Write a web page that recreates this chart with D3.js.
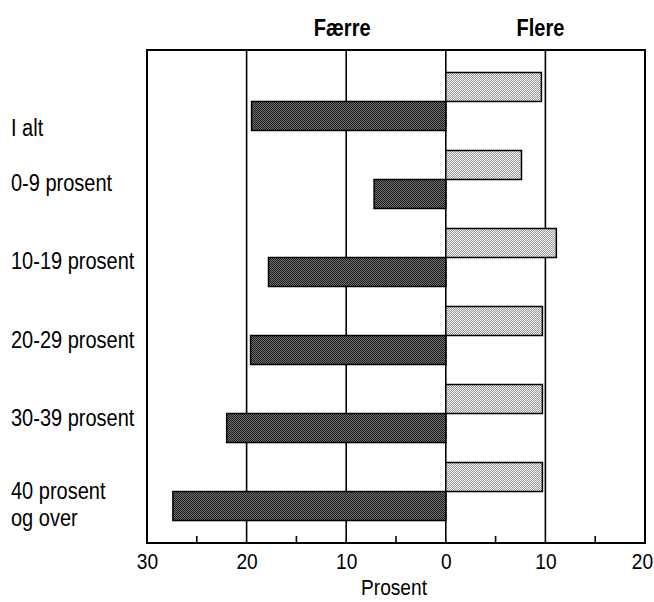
<!DOCTYPE html>
<meta charset="utf-8">

<style>
  body { margin: 0; background: #fff; }
  text { font-family: "Liberation Sans", Arial, sans-serif; fill: #000; }
</style>

<svg class="chart"></svg>

<script src="https://d3js.org/d3.v7.min.js"></script>
<script>

  var width  = 654;
  var height = 602;

  // data
  var categories = ["I alt", "0-9 prosent", "10-19 prosent", "20-29 prosent", "30-39 prosent", "40 prosent\nog over"];
  var faerre     = [19.5, 7.2, 17.8, 19.6, 22.0, 27.4];
  var flere      = [9.6, 7.6, 11.1, 9.7, 9.7, 9.7];
  var majorTicks = [-30, -20, -10, 0, 10, 20];
  var minorTicks = [-25, -15, -5, 5, 15];

  var margin = { top: 50, right: 9, bottom: 59, left: 147 };
  var plotW = width - margin.left - margin.right;
  var plotH = height - margin.top - margin.bottom;

  // the print uses a condensed face; squeeze the regular one
  var squeeze = 0.87;

  var chart = d3.select(".chart")
      .attr("width", width)
      .attr("height", height);

  var defs = chart.append("defs");

  // stippled fills, like the printed raster
  function stipple(id, bg, dot) {
    var p = defs.append("pattern")
        .attr("id", id)
        .attr("width", 2).attr("height", 2)
        .attr("patternUnits", "userSpaceOnUse");
    p.append("rect").attr("width", 2).attr("height", 2).attr("fill", bg);
    p.append("rect").attr("width", 1).attr("height", 1).attr("fill", dot);
    p.append("rect").attr("x", 1).attr("y", 1).attr("width", 1).attr("height", 1).attr("fill", dot);
  }
  stipple("darkFill", "#1e1e1e", "#707070");
  stipple("lightFill", "#f0f0f0", "#9a9a9a");

  var x = d3.scaleLinear()
      .domain([-30, 20])
      .range([0, plotW]);

  var y = d3.scalePoint()
      .domain(categories)
      .range([0, plotH])
      .padding(0.66);

  var barH = 29;

  function place(sel, px, py) {
    sel.attr("transform", "translate(" + px + "," + py + ") scale(" + squeeze + ",1)");
  }

  var g = chart.append("g")
      .attr("transform", "translate(" + margin.left + "," + margin.top + ")");

  // gridlines at the major ticks
  g.append("g")
    .selectAll("line")
    .data(majorTicks.filter(function(d) { return d > -30 && d < 20; }))
    .enter().append("line")
      .attr("x1", function(d) { return x(d); })
      .attr("x2", function(d) { return x(d); })
      .attr("y1", 0)
      .attr("y2", plotH)
      .attr("stroke", "#000")
      .attr("stroke-width", 1.6);

  // minor ticks on the bottom edge
  g.append("g")
    .selectAll("line")
    .data(minorTicks)
    .enter().append("line")
      .attr("x1", function(d) { return x(d); })
      .attr("x2", function(d) { return x(d); })
      .attr("y1", plotH - 7)
      .attr("y2", plotH)
      .attr("stroke", "#000")
      .attr("stroke-width", 1.6);

  // Færre bars (left)
  g.append("g")
    .selectAll("rect")
    .data(faerre)
    .enter().append("rect")
      .attr("x", function(d) { return x(-d); })
      .attr("y", function(d, i) { return y(categories[i]); })
      .attr("width", function(d) { return x(0) - x(-d); })
      .attr("height", barH)
      .attr("fill", "url(#darkFill)")
      .attr("stroke", "#000")
      .attr("stroke-width", 1.5);

  // Flere bars (right)
  g.append("g")
    .selectAll("rect")
    .data(flere)
    .enter().append("rect")
      .attr("x", x(0))
      .attr("y", function(d, i) { return y(categories[i]) - barH; })
      .attr("width", function(d) { return x(d) - x(0); })
      .attr("height", barH)
      .attr("fill", "url(#lightFill)")
      .attr("stroke", "#000")
      .attr("stroke-width", 1.5);

  // frame
  g.append("rect")
      .attr("width", plotW)
      .attr("height", plotH)
      .attr("fill", "none")
      .attr("stroke", "#000")
      .attr("stroke-width", 2);

  // x axis labels
  var xAxis = d3.axisBottom(x)
      .tickValues(majorTicks)
      .tickSize(0)
      .tickPadding(10)
      .tickFormat(function(d) { return Math.abs(d); });

  var ax = g.append("g")
      .attr("transform", "translate(0," + plotH + ")")
      .call(xAxis);
  ax.select(".domain").remove();
  ax.attr("font-family", null).attr("font-size", null);
  ax.selectAll("text")
      .attr("font-size", 22)
      .attr("transform", function(d) {
        // keep the last label inside the page
        return "translate(" + (d === 20 ? -3 : 0) + ",0) scale(" + squeeze + ",1)";
      });

  g.append("text")
      .attr("text-anchor", "middle")
      .attr("font-size", 22)
      .call(place, (x(-30) + x(20)) / 2 - 2, plotH + 52)
      .text("Prosent");

  // category labels
  var labels = chart.append("g")
    .selectAll("text")
    .data(categories)
    .enter().append("text")
      .attr("font-size", 23)
      .each(function(d, i) {
        var dy = (i === 0 ? 35 : 12) - (d.indexOf("\n") > -1 ? 5 : 0);
        d3.select(this).call(place, 11, margin.top + y(d) + dy);
      });

  labels.selectAll("tspan")
    .data(function(d) { return d.split("\n"); })
    .enter().append("tspan")
      .attr("x", 0)
      .attr("dy", function(d, i) { return i === 0 ? 0 : 27; })
      .text(function(d) { return d; });

  // headings
  chart.append("text")
      .attr("text-anchor", "middle")
      .attr("font-size", 23)
      .attr("font-weight", "bold")
      .call(place, margin.left + (x(-20) + x(0)) / 2 - 4, 36)
      .text("Færre");

  chart.append("text")
      .attr("text-anchor", "middle")
      .attr("font-size", 23)
      .attr("font-weight", "bold")
      .call(place, margin.left + (x(0) + x(20)) / 2 - 5, 36)
      .text("Flere");

</script>
